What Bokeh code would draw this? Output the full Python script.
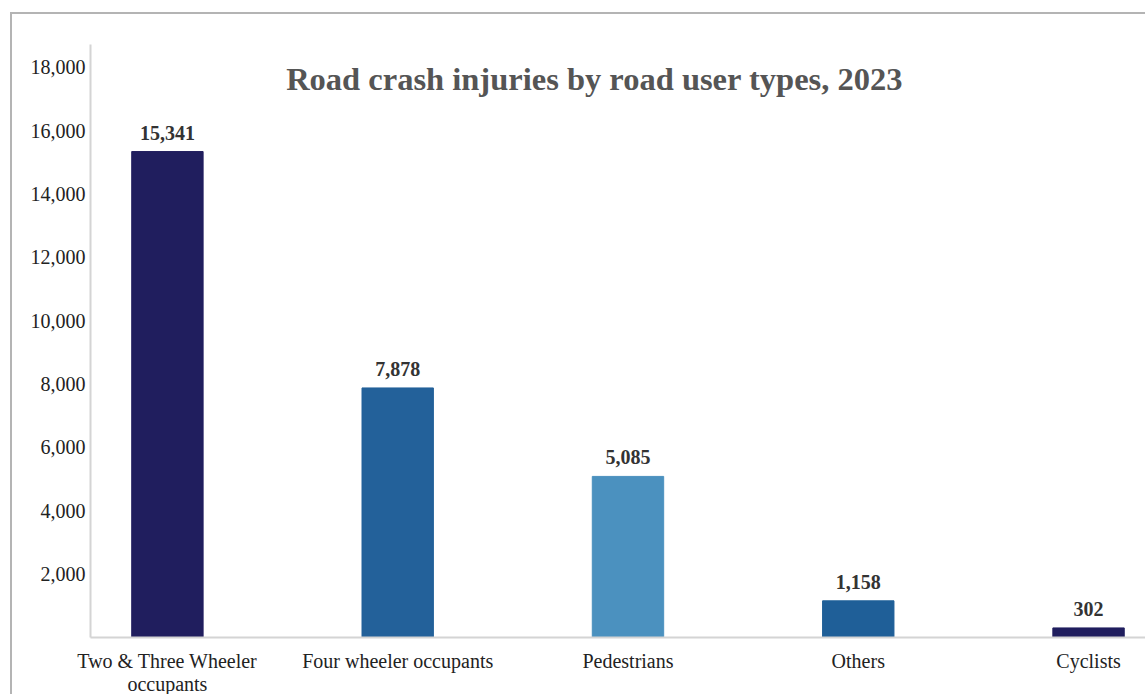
from bokeh.plotting import figure
from bokeh.models import ColumnDataSource, FixedTicker, Range1d, Label, NumeralTickFormatter
from bokeh.embed import file_html
from bokeh.resources import INLINE

categories = ["Two & Three Wheeler\noccupants", "Four wheeler occupants", "Pedestrians", "Others", "Cyclists"]
values = [15341, 7878, 5085, 1158, 302]
value_labels = ["15,341", "7,878", "5,085", "1,158", "302"]
colors = ["#201e5e", "#23619a", "#4b91bf", "#1f5f98", "#201e5e"]
y_ticks = [2000, 4000, 6000, 8000, 10000, 12000, 14000, 16000, 18000]
title_text = "Road crash injuries by road user types, 2023"

xs = list(range(len(categories)))
src = ColumnDataSource(dict(x=xs, top=values, color=colors, label=value_labels))

FONT = "Liberation Serif"

p = figure(width=1135, height=690, output_backend="svg", toolbar_location=None,
           x_range=Range1d(-0.334, 4.256), y_range=Range1d(0, 18720),
           min_border_left=78, min_border_right=0, min_border_top=30, min_border_bottom=67)
p.margin = (12, 0, 0, 10)
p.styles = {"border-top": "2px solid #b4b4b4", "border-left": "2px solid #b4b4b4"}
p.outline_line_color = None
p.xgrid.visible = False
p.ygrid.visible = False
p.background_fill_color = "white"
p.border_fill_color = "white"

p.vbar(x="x", top="top", width=0.31, color="color", source=src)
p.text(x="x", y="top", text="label", source=src, text_align="center", text_baseline="bottom",
       y_offset=-12, text_font=FONT, text_font_style="bold", text_font_size="20px", text_color="#333333")

p.yaxis.ticker = FixedTicker(ticks=y_ticks)
p.yaxis.formatter = NumeralTickFormatter(format="0,0")
p.yaxis.major_tick_line_color = None
p.yaxis.minor_tick_line_color = None
p.yaxis.major_tick_out = 0
p.yaxis.minor_tick_out = 0
p.yaxis.axis_line_color = "#d4d4d4"
p.yaxis.axis_line_width = 2
p.yaxis.major_label_text_font = FONT
p.yaxis.major_label_text_font_size = "20px"
p.yaxis.major_label_text_color = "#222222"
p.yaxis.major_label_standoff = 5

p.xaxis.ticker = FixedTicker(ticks=xs)
p.xaxis.major_label_overrides = {i: c for i, c in zip(xs, categories)}
p.xaxis.major_tick_line_color = None
p.xaxis.minor_tick_line_color = None
p.xaxis.major_tick_out = 0
p.xaxis.minor_tick_out = 0
p.xaxis.axis_line_color = "#d4d4d4"
p.xaxis.axis_line_width = 2
p.xaxis.major_label_text_font = FONT
p.xaxis.major_label_text_font_size = "20px"
p.xaxis.major_label_text_line_height = 1.05
p.xaxis.major_label_text_color = "#222222"
p.xaxis.major_label_standoff = 12

p.add_layout(Label(x=1.855, y=17640, text=title_text, text_align="center", text_baseline="middle",
                   text_font=FONT, text_font_style="bold", text_font_size="32.5px", text_color="#555555"))

open("out.html", "w").write(file_html(p, INLINE))
